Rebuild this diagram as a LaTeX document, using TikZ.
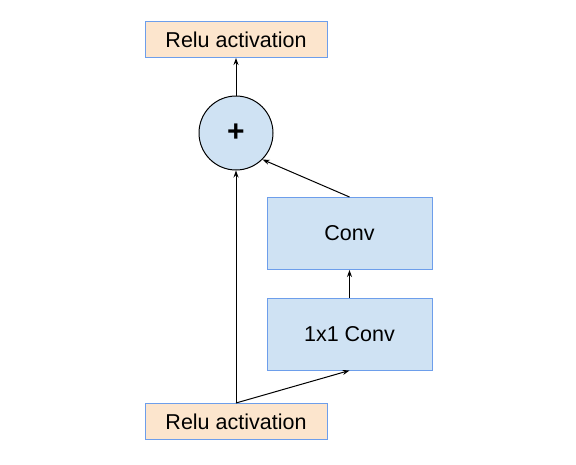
\documentclass[tikz,border=0pt]{standalone}
\usepackage{fontspec}
\setmainfont{Liberation Sans}
\usetikzlibrary{arrows.meta}
\definecolor{relufill}{HTML}{FCE5CD}
\definecolor{convfill}{HTML}{CFE2F3}
\definecolor{edgeblue}{HTML}{6D9EEB}
\begin{document}
\begin{tikzpicture}[x=1pt,y=-1pt,
  relubox/.style={draw=edgeblue,fill=relufill,line width=1pt,minimum width=182pt,minimum height=36pt,inner sep=0pt,font=\fontsize{21.5}{25}\selectfont},
  convbox/.style={draw=edgeblue,fill=convfill,line width=1pt,minimum width=165pt,minimum height=72pt,inner sep=0pt,font=\fontsize{21.5}{25}\selectfont},
  addnode/.style={circle,draw=black,fill=convfill,line width=1pt,minimum size=74pt,inner sep=0pt,font=\fontsize{30}{32}\selectfont\bfseries},
  arr/.style={-{Stealth[length=7pt,width=5pt]},line width=1pt}]
\useasboundingbox (0,0) rectangle (576,464);
\node[relubox] (top) at (236,39.5) {Relu activation};
\node[addnode] (plus) at (236,133) {+};
\node[convbox] (conv) at (349.5,233.5) {Conv};
\node[convbox] (conv1) at (349.5,334) {1x1 Conv};
\node[relubox] (bot) at (236,421.5) {Relu activation};
\draw[arr] (plus.north) -- (top.south);
\draw[arr] (bot.north) -- (plus.south);
\draw[arr] (bot.north) -- (conv1.south);
\draw[arr] (conv1.north) -- (conv.south);
\draw[arr] (conv.north) -- (plus.south east);
\end{tikzpicture}
\end{document}
